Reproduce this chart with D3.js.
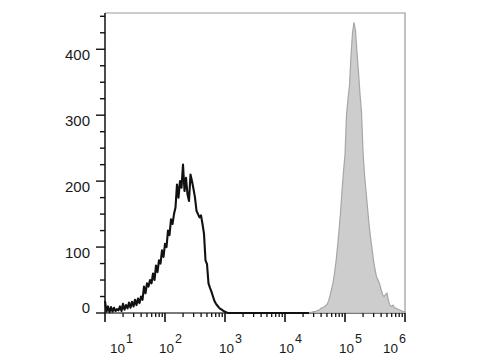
<!DOCTYPE html>
<html>
<head>
<meta charset="utf-8">
<script src="https://cdn.jsdelivr.net/npm/d3@7"></script>
<style>
  body { margin: 0; background: #fff; }
  svg text { font-family: "Liberation Sans", Arial, sans-serif; fill: #1a1a1a; }
</style>
</head>
<body>
<div id="chart"></div>
<script>
// histogram bins, in log10 channel units
var binStep = 0.025;

// unstained / isotype (black outline)
var negStart = 1.0;
var negCounts = [18, 2, 10, 1, 9, 2, 8, 3, 6, 4,
  10, 3, 14, 5, 12, 7, 16, 8, 17, 10,
  20, 12, 22, 15, 25, 20, 40, 30, 45, 40,
  50, 45, 60, 50, 72, 62, 80, 75, 95, 85,
  105, 100, 125, 118, 142, 135, 150, 160, 195, 175,
  200, 190, 225, 185, 205, 180, 170, 210, 200, 188,
  175, 155, 150, 145, 148, 135, 120, 80, 74, 45,
  38, 32, 25, 18, 14, 11, 8, 6, 5, 3,
  2, 1, 0];

// stained (grey filled)
var posStart = 4.4;
var posCounts = [0, 1, 1, 2, 2, 3, 4, 5, 7, 8,
  9, 11, 13, 18, 26, 36, 46, 60, 78, 100,
  125, 152, 185, 215, 240, 300, 325, 345, 390, 425,
  441, 428, 395, 365, 332, 305, 245, 210, 185, 160,
  135, 115, 98, 80, 66, 55, 50, 45, 36, 28,
  25, 28, 30, 18, 12, 10, 12, 8, 7, 6,
  5, 4, 3, 2, 2];

var yTicks = [0, 100, 200, 300, 400];
var xDecades = [1, 2, 3, 4, 5, 6];

var svgWidth = 480;
var svgHeight = 360;

var margin = { top: 13, right: 75, bottom: 47, left: 105 };
var width = svgWidth - margin.left - margin.right;
var height = svgHeight - margin.top - margin.bottom;

var svg = d3.select("#chart")
  .append("svg")
  .attr("width", svgWidth)
  .attr("height", svgHeight);

var chartGroup = svg.append("g")
  .attr("transform", `translate(${margin.left}, ${margin.top})`);

var xScale = d3.scaleLog()
  .domain([1e1, 1e6])
  .range([0, width]);

var yScale = d3.scaleLinear()
  .domain([0, 455])
  .range([height, 0]);

function toPoints(start, counts) {
  return counts.map((c, i) => ({ x: Math.pow(10, start + i * binStep), c: c }));
}

var negData = toPoints(negStart, negCounts);
negData.push({ x: Math.pow(10, posStart), c: 0 });

var posData = toPoints(posStart, posCounts);
posData.unshift({ x: xScale.domain()[0], c: 0 });

// frame (top and right)
chartGroup.append("path")
  .attr("d", `M0,0H${width}V${height}`)
  .attr("fill", "none")
  .attr("stroke", "#9a9a9a")
  .attr("stroke-width", 1.2);

// bottom axis line
chartGroup.append("line")
  .attr("x1", 0).attr("x2", width)
  .attr("y1", height).attr("y2", height)
  .attr("stroke", "#111")
  .attr("stroke-width", 1.5);

// grey filled histogram
var area = d3.area()
  .x(d => xScale(d.x))
  .y0(height)
  .y1(d => yScale(d.c));

chartGroup.append("path")
  .datum(posData)
  .attr("d", area)
  .attr("fill", "#cdcdcd")
  .attr("stroke", "#a6a6a6")
  .attr("stroke-width", 1.2);

// black outline histogram
var line = d3.line()
  .x(d => xScale(d.x))
  .y(d => yScale(d.c));

chartGroup.append("path")
  .datum(negData)
  .attr("d", line)
  .attr("fill", "none")
  .attr("stroke", "#111")
  .attr("stroke-width", 2.1)
  .attr("stroke-linejoin", "round");

// y axis
var yMinor = d3.range(0, 455, 25);
var yAxis = chartGroup.append("g");
yAxis.append("line")
  .attr("x1", 0).attr("x2", 0)
  .attr("y1", 0).attr("y2", height)
  .attr("stroke", "#111")
  .attr("stroke-width", 1.5);
yAxis.selectAll(".ytick")
  .data(yMinor)
  .enter()
  .append("line")
  .attr("x1", d => yTicks.includes(d) ? -9 : -5)
  .attr("x2", 0)
  .attr("y1", d => yScale(d))
  .attr("y2", d => yScale(d))
  .attr("stroke", "#111")
  .attr("stroke-width", 1.4);
yAxis.selectAll(".ylabel")
  .data(yTicks)
  .enter()
  .append("text")
  .attr("x", -15)
  .attr("y", d => yScale(d) + (d === 0 ? 0 : 11))
  .attr("text-anchor", "end")
  .attr("font-size", 15)
  .text(d => d);

// x axis
var xMinor = [];
xDecades.slice(0, -1).forEach(function(e) {
  for (var k = 2; k <= 9; k++) xMinor.push(k * Math.pow(10, e));
});
var xAxis = chartGroup.append("g");
xAxis.selectAll(".xminor")
  .data(xMinor)
  .enter()
  .append("line")
  .attr("x1", d => xScale(d)).attr("x2", d => xScale(d))
  .attr("y1", height).attr("y2", height + 4)
  .attr("stroke", "#111")
  .attr("stroke-width", 1.3);
xAxis.selectAll(".xmajor")
  .data(xDecades)
  .enter()
  .append("line")
  .attr("x1", d => xScale(Math.pow(10, d))).attr("x2", d => xScale(Math.pow(10, d)))
  .attr("y1", height).attr("y2", height + 9)
  .attr("stroke", "#111")
  .attr("stroke-width", 1.6);

var xLabels = xAxis.selectAll(".xlabel")
  .data(xDecades)
  .enter()
  .append("text")
  .attr("x", (d, i) => xScale(Math.pow(10, d)) + (i === 0 ? 5 : i === xDecades.length - 1 ? -22 : -6))
  .attr("y", height + 40)
  .attr("font-size", 13.5);
xLabels.append("tspan").text("10");
xLabels.append("tspan")
  .attr("dx", 1)
  .attr("dy", -10)
  .attr("font-size", 12.5)
  .text(d => d);
</script>
</body>
</html>
